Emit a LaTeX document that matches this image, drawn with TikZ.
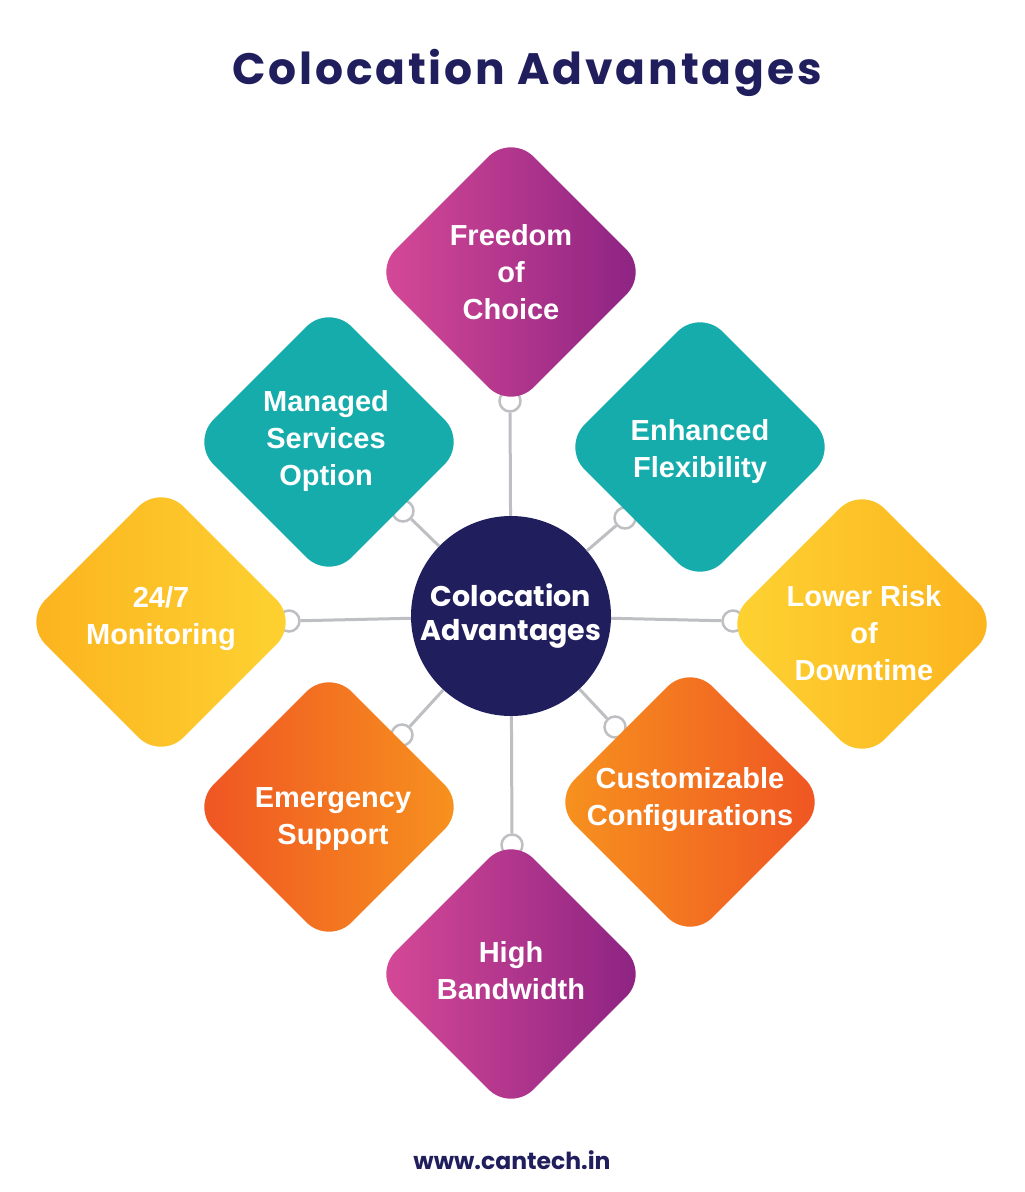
\documentclass[tikz,border=0pt]{standalone}
\usepackage{fontspec}
\setmainfont{Liberation Sans}
\newfontfamily\popfont{Poppins}
\newfontfamily\headfont[LetterSpace=6.5]{Poppins}
\usetikzlibrary{shapes.geometric}
\definecolor{navy}{RGB}{33,30,94}
\definecolor{tealbox}{RGB}{23,172,172}
\definecolor{magA}{RGB}{216,74,151}
\definecolor{magB}{RGB}{138,34,130}
\definecolor{yelA}{RGB}{252,178,30}
\definecolor{yelB}{RGB}{253,211,50}
\definecolor{oraA}{RGB}{247,148,30}
\definecolor{oraB}{RGB}{239,83,35}
\definecolor{linegray}{RGB}{190,191,194}
\tikzset{
  tile/.style={diamond, minimum width=276pt, minimum height=276pt, inner sep=0pt,
    rounded corners=32pt},
  tiletext/.style={text=white, align=center, inner sep=0pt,
    font=\bfseries\fontsize{29}{37}\selectfont},
  ring/.style={circle, draw=linegray, line width=2.5pt, fill=white,
    minimum size=21pt, inner sep=0pt},
  link/.style={draw=linegray, line width=3pt}
}

\begin{document}
\begin{tikzpicture}[x=1pt, y=-1pt]
\useasboundingbox[fill=white] (0,0) rectangle (1025,1192);
% title and footer
\node[anchor=base, text=navy, font=\headfont\bfseries\fontsize{44}{50}\selectfont] (title) at (527,84) {Colocation Advantages};
\node[anchor=base, text=navy, font=\popfont\bfseries\fontsize{23.5}{28}\selectfont] (url) at (512,1169) {www.cantech.in};
% rings at the tips
\foreach \name/\x/\y in {rt/510/401, rur/625/518, rr/733/621, rlr/615/727,
                         rb/512/845, rll/402/735, rl/289/621, rul/403/511}{
  \node[ring] (\name) at (\x,\y) {};
}
% tiles
\node[tile, left color=magA, right color=magB] (choice) at (511,272) {};
\node[tile, fill=tealbox] (flex) at (700,447) {};
\node[tile, left color=yelB, right color=yelA] (risk) at (862,624) {};
\node[tile, left color=oraA, right color=oraB] (config) at (690,802) {};
\node[tile, left color=magA, right color=magB] (band) at (511,974) {};
\node[tile, left color=oraB, right color=oraA] (support) at (329,807) {};
\node[tile, left color=yelA, right color=yelB] (monitor) at (161,622) {};
\node[tile, fill=tealbox] (managed) at (329,442) {};
% tile texts
\node[tiletext] (choicetext) at (choice) {Freedom\\of\\Choice};
\node[tiletext] (flextext) at ([yshift=-4pt]flex.center) {Enhanced\\Flexibility};
\node[tiletext] (risktext) at ([xshift=2pt, yshift=-9pt]risk.center) {Lower Risk\\of\\Downtime};
\node[tiletext] (configtext) at ([yshift=2pt]config.center) {Customizable\\Configurations};
\node[tiletext] (bandtext) at ([yshift=3pt]band.center) {High\\Bandwidth};
\node[tiletext] (supporttext) at ([xshift=4pt, yshift=-12pt]support.center) {Emergency\\Support};
\node[tiletext] (monitortext) at ([yshift=3pt]monitor.center) {24/7\\Monitoring};
\node[tiletext] (managedtext) at ([xshift=-3pt, yshift=1pt]managed.center) {Managed\\Services\\Option};
% hub
\node[circle, fill=navy, minimum size=200pt, inner sep=0pt, text=white, align=center,
  font=\popfont\bfseries\fontsize{28.5}{34}\selectfont] (hub) at (511,616) {Colocation\\Advantages};
\foreach \name in {rt,rur,rr,rlr,rb,rll,rl,rul}{
  \draw[link] (hub) -- (\name);
}
\end{tikzpicture}
\end{document}
